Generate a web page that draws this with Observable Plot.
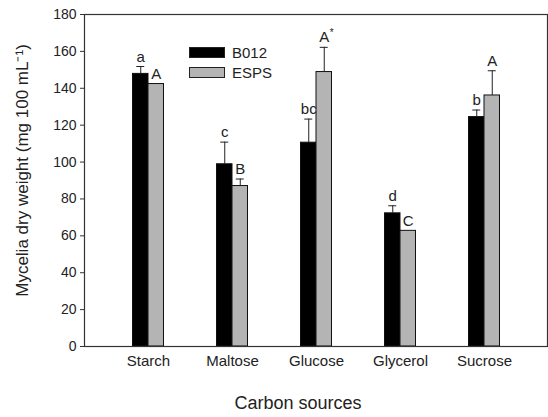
<!DOCTYPE html>
<html>
<head>
<meta charset="utf-8">
<script src="https://cdn.jsdelivr.net/npm/d3@7"></script>
<script src="https://cdn.jsdelivr.net/npm/@observablehq/plot@0.6"></script>
<style>
  html, body { margin: 0; padding: 0; background: #fff; }
  #wrap { position: relative; width: 548px; height: 417px; font-family: "Liberation Sans", Arial, sans-serif; }
  #legend { position: absolute; left: 189px; top: 42px; font-size: 15px; color: #222; }
  .li { display: flex; align-items: center; height: 20px; }
  .sw { width: 34px; height: 9px; border: 1px solid #222; margin-right: 7px; }
</style>
</head>
<body>
<div id="wrap"></div>
<script>
const categories = ["Starch", "Maltose", "Glucose", "Glycerol", "Sucrose"];
const seriesNames = ["B012", "ESPS"];
const seriesColors = ["#000000", "#b4b4b4"];
const b012Mean = [147.8, 98.8, 110.5, 72.2, 124.4];
const b012Err = [4.0, 12.0, 12.8, 4.1, 3.8];
const espsMean = [142.3, 87.0, 148.8, 62.7, 136.1];
const espsErr = [0, 3.8, 13.4, 0, 13.4];
const b012Letters = ["a", "c", "bc", "d", "b"];
const espsLetters = ["A", "B", "A*", "C", "A"];
const yTicks = [0, 20, 40, 60, 80, 100, 120, 140, 160, 180];
const xTitle = "Carbon sources";
const yTitle = "Mycelia dry weight (mg 100 mL\u207B\u00B9)";

const rows = [];
categories.forEach((c, i) => {
  rows.push({cat: c, series: seriesNames[0], mean: b012Mean[i], err: b012Err[i], top: b012Mean[i] + b012Err[i], letter: b012Letters[i]});
  rows.push({cat: c, series: seriesNames[1], mean: espsMean[i], err: espsErr[i], top: espsMean[i] + espsErr[i], letter: espsLetters[i]});
});
const A = rows.filter(d => d.series === seriesNames[0]);
const B = rows.filter(d => d.series === seriesNames[1]);

// band is 42px wide, each bar 15.5px
const half = 21, bw = 15.5, off = bw / 2, cap = 4;
const sideA = {insetLeft: half - bw, insetRight: half};
const sideB = {insetLeft: half, insetRight: half - bw};

const plot = Plot.plot({
  width: 548,
  height: 417,
  marginLeft: 84,
  marginRight: 1,
  marginTop: 14,
  marginBottom: 71,
  style: {fontFamily: "Liberation Sans, Arial, sans-serif", background: "#fff", color: "#222"},
  x: {domain: categories, padding: 0.5, label: null},
  y: {domain: [0, 180], label: null},
  marks: [
    Plot.barY(A, {x: "cat", y: "mean", fill: seriesColors[0], stroke: "#111", strokeWidth: 1, ...sideA}),
    Plot.barY(B, {x: "cat", y: "mean", fill: seriesColors[1], stroke: "#111", strokeWidth: 1, ...sideB}),
    Plot.ruleX(A.filter(d => d.err > 0), {x: "cat", y1: "mean", y2: "top", dx: -off, stroke: "#222", strokeWidth: 1}),
    Plot.ruleX(B.filter(d => d.err > 0), {x: "cat", y1: "mean", y2: "top", dx: off, stroke: "#222", strokeWidth: 1}),
    Plot.tickY(A.filter(d => d.err > 0), {x: "cat", y: "top", stroke: "#222", strokeWidth: 1, insetLeft: half - off - cap, insetRight: half + off - cap}),
    Plot.tickY(B.filter(d => d.err > 0), {x: "cat", y: "top", stroke: "#222", strokeWidth: 1, insetLeft: half + off - cap, insetRight: half - off - cap}),
    Plot.text(A, {x: "cat", y: "top", text: "letter", dx: -off, dy: -5, lineAnchor: "bottom", fontSize: 15, fill: "#222"}),
    Plot.text(B, {x: "cat", y: "top", text: d => d.letter.replace("*", ""), dx: off, dy: -5, lineAnchor: "bottom", fontSize: 15, fill: "#222"}),
    Plot.text(B.filter(d => d.letter.includes("*")), {x: "cat", y: "top", text: () => "*", dx: off + 7.5, dy: -11, lineAnchor: "bottom", fontSize: 10, fill: "#222"}),
    Plot.frame({stroke: "#333", strokeWidth: 1.2}),
    Plot.axisY({ticks: yTicks, tickSize: 4, tickPadding: 4, fontSize: 14, label: null, stroke: "#333"}),
    Plot.axisX({tickSize: 0, tickPadding: 9, fontSize: 15, label: null}),
    Plot.text([xTitle], {frameAnchor: "bottom", dx: -18, dy: 62, lineAnchor: "bottom", fontSize: 18, fill: "#222"}),
    Plot.text([yTitle], {frameAnchor: "left", textAnchor: "middle", dx: -62, dy: -10, rotate: -90, fontSize: 17, fill: "#222"})
  ]
});

const wrap = document.getElementById("wrap");
wrap.appendChild(plot);
const legend = document.createElement("div");
legend.id = "legend";
seriesNames.forEach((name, i) => {
  const li = document.createElement("div");
  li.className = "li";
  const sw = document.createElement("span");
  sw.className = "sw";
  sw.style.background = seriesColors[i];
  const t = document.createElement("span");
  t.textContent = name;
  li.appendChild(sw);
  li.appendChild(t);
  legend.appendChild(li);
});
wrap.appendChild(legend);
</script>
</body>
</html>
